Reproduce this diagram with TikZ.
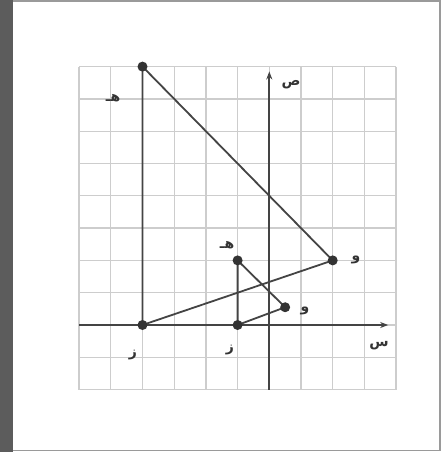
\documentclass[tikz,border=0pt]{standalone}
\usepackage{fontspec}
\newfontfamily\arabicfont[Script=Arabic]{DejaVu Sans}
\TeXXeTstate=1
\usetikzlibrary{arrows.meta}
\definecolor{framegray}{HTML}{5C5C5C}
\definecolor{edgegray}{HTML}{9A9A9A}
\definecolor{gridgray}{HTML}{CDCDCD}
\definecolor{inkgray}{HTML}{444444}
\definecolor{dotgray}{HTML}{333333}
\tikzset{
  gridline/.style={draw=gridgray, line width=1.3pt},
  axisline/.style={draw=inkgray, line width=1.8pt, -{Stealth[length=8pt,width=6pt]}},
  edge/.style={draw=inkgray, line width=1.8pt},
  vdot/.style={circle, fill=dotgray, inner sep=0pt, minimum size=10pt},
  lbl/.style={text=dotgray, font=\arabicfont\bfseries\fontsize{14}{14}\selectfont, inner sep=0pt}
}
\begin{document}
\begin{tikzpicture}[x=1pt,y=-1pt]
\useasboundingbox (0,0) rectangle (441,452);
\fill[white] (0,0) rectangle (441,452);
\fill[framegray] (0,0) rectangle (13,452);
\draw[edgegray, line width=1.2pt] (13,1) -- (440,1) -- (440,450.5) -- (13,450.5);
\begin{scope}[shift={(269.3,325)}, x=31.7pt, y=32.3pt]
  \foreach \i in {-6,...,4} \draw[gridline] (\i,-2) -- (\i,8);
  \foreach \j in {-2,...,8} \draw[gridline] (-6,\j) -- (4,\j);
  \coordinate (xl) at (-6,0);
  \coordinate (xr) at (3.75,0);
  \coordinate (yb) at (0,-2);
  \coordinate (yt) at (0,7.85);
  \draw[axisline] (xl) -- (xr);
  \draw[axisline] (yb) -- (yt);
  % big triangle
  \coordinate (H2) at (-4,8);
  \coordinate (Z2) at (-4,0);
  \coordinate (W2) at (2,2);
  % small triangle
  \coordinate (H1) at (-1,2);
  \coordinate (Z1) at (-1,0);
  \coordinate (W1) at (0.5,0.55);
  \draw[edge] (H2) -- (Z2) -- (W2) -- cycle;
  \draw[edge] (H1) -- (Z1) -- (W1) -- cycle;
  \foreach \p in {H2,Z2,W2,H1,Z1,W1} \node[vdot] (d\p) at (\p) {};
\end{scope}
\node[lbl] (lH2) at (113,98) {\beginR هـ\endR};
\node[lbl] (lH1) at (227,245) {\beginR هـ\endR};
\node[lbl] (lW2) at (356,260) {\beginR و\endR};
\node[lbl] (lW1) at (305,311) {\beginR و\endR};
\node[lbl] (lZ2) at (133,355) {\beginR ز\endR};
\node[lbl] (lZ1) at (230,350) {\beginR ز\endR};
\node[lbl] (lY) at (291,85) {\beginR ص\endR};
\node[lbl] (lX) at (379,346) {\beginR س\endR};
\end{tikzpicture}
\end{document}
